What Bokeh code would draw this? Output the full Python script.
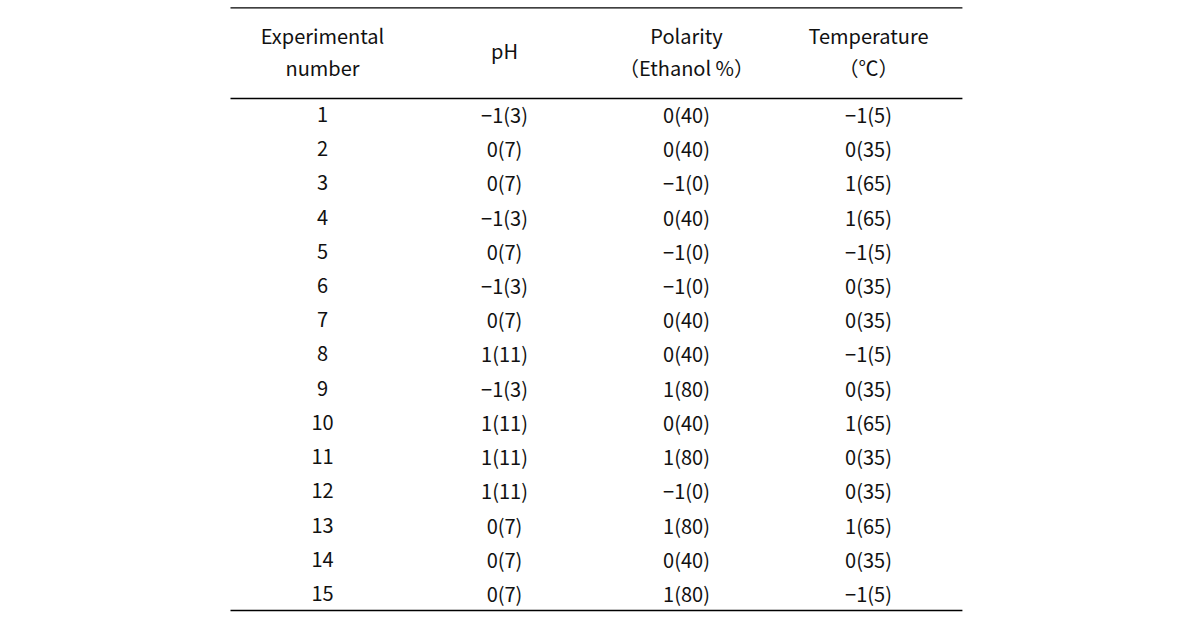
from bokeh.plotting import figure
from bokeh.models import Range1d, ColumnDataSource
from bokeh.core.properties import value
from bokeh.embed import file_html
from bokeh.resources import INLINE

# ---- data ----
exp_numbers = [str(i) for i in range(1, 16)]
ph_levels = ["−1(3)", "0(7)", "0(7)", "−1(3)", "0(7)", "−1(3)", "0(7)", "1(11)",
             "−1(3)", "1(11)", "1(11)", "1(11)", "0(7)", "0(7)", "0(7)"]
polarity_levels = ["0(40)", "0(40)", "−1(0)", "0(40)", "−1(0)", "−1(0)", "0(40)", "0(40)",
                   "1(80)", "0(40)", "1(80)", "−1(0)", "1(80)", "0(40)", "1(80)"]
temperature_levels = ["−1(5)", "0(35)", "1(65)", "1(65)", "−1(5)", "0(35)", "0(35)", "−1(5)",
                      "0(35)", "1(65)", "0(35)", "0(35)", "1(65)", "0(35)", "−1(5)"]
header_line1 = ["Experimental", "pH", "Polarity", "Temperature"]
header_line2 = ["number", "", "（Ethanol %）", "（℃）"]

FONT = value("Noto Sans CJK KR")
FS = "20px"
COLOR = "#111111"

p = figure(width=1190, height=622, output_backend="svg", toolbar_location=None,
           x_range=Range1d(-1.7692, 4.7692), y_range=Range1d(15.8495, -2.3324),
           min_border=0, min_border_left=0, min_border_right=0,
           min_border_top=0, min_border_bottom=0)
p.axis.visible = False
p.grid.visible = False
p.outline_line_color = None
p.background_fill_color = "white"
p.border_fill_color = "white"

# body cells
xs, ys, texts = [], [], []
for ci, col in enumerate([exp_numbers, ph_levels, polarity_levels, temperature_levels]):
    for ri, t in enumerate(col):
        xs.append(ci)
        ys.append(ri + 1)
        texts.append(t)
src = ColumnDataSource(dict(x=xs, y=ys, text=texts))
p.text(x="x", y="y", text="text", source=src, text_font=FONT, text_font_size=FS,
       text_color=COLOR, text_align="center", text_baseline="middle")

# header
hx, hy, ht = [], [], []
for ci, (a, b) in enumerate(zip(header_line1, header_line2)):
    if b:
        hx += [ci, ci]
        hy += [-1.31, -0.38]
        ht += [a, b]
    else:
        hx.append(ci)
        hy.append(-0.87)
        ht.append(a)
hsrc = ColumnDataSource(dict(x=hx, y=hy, text=ht))
p.text(x="x", y="y", text="text", source=hsrc, text_font=FONT, text_font_size=FS,
       text_color=COLOR, text_align="center", text_baseline="middle")

# rules
x0, x1 = -0.5055, 3.516
for yv in [-2.119, 0.532, 15.499]:
    p.segment(x0=[x0], y0=[yv], x1=[x1], y1=[yv], line_color="black", line_width=1.3)

open("out.html", "w").write(file_html(p, INLINE))
